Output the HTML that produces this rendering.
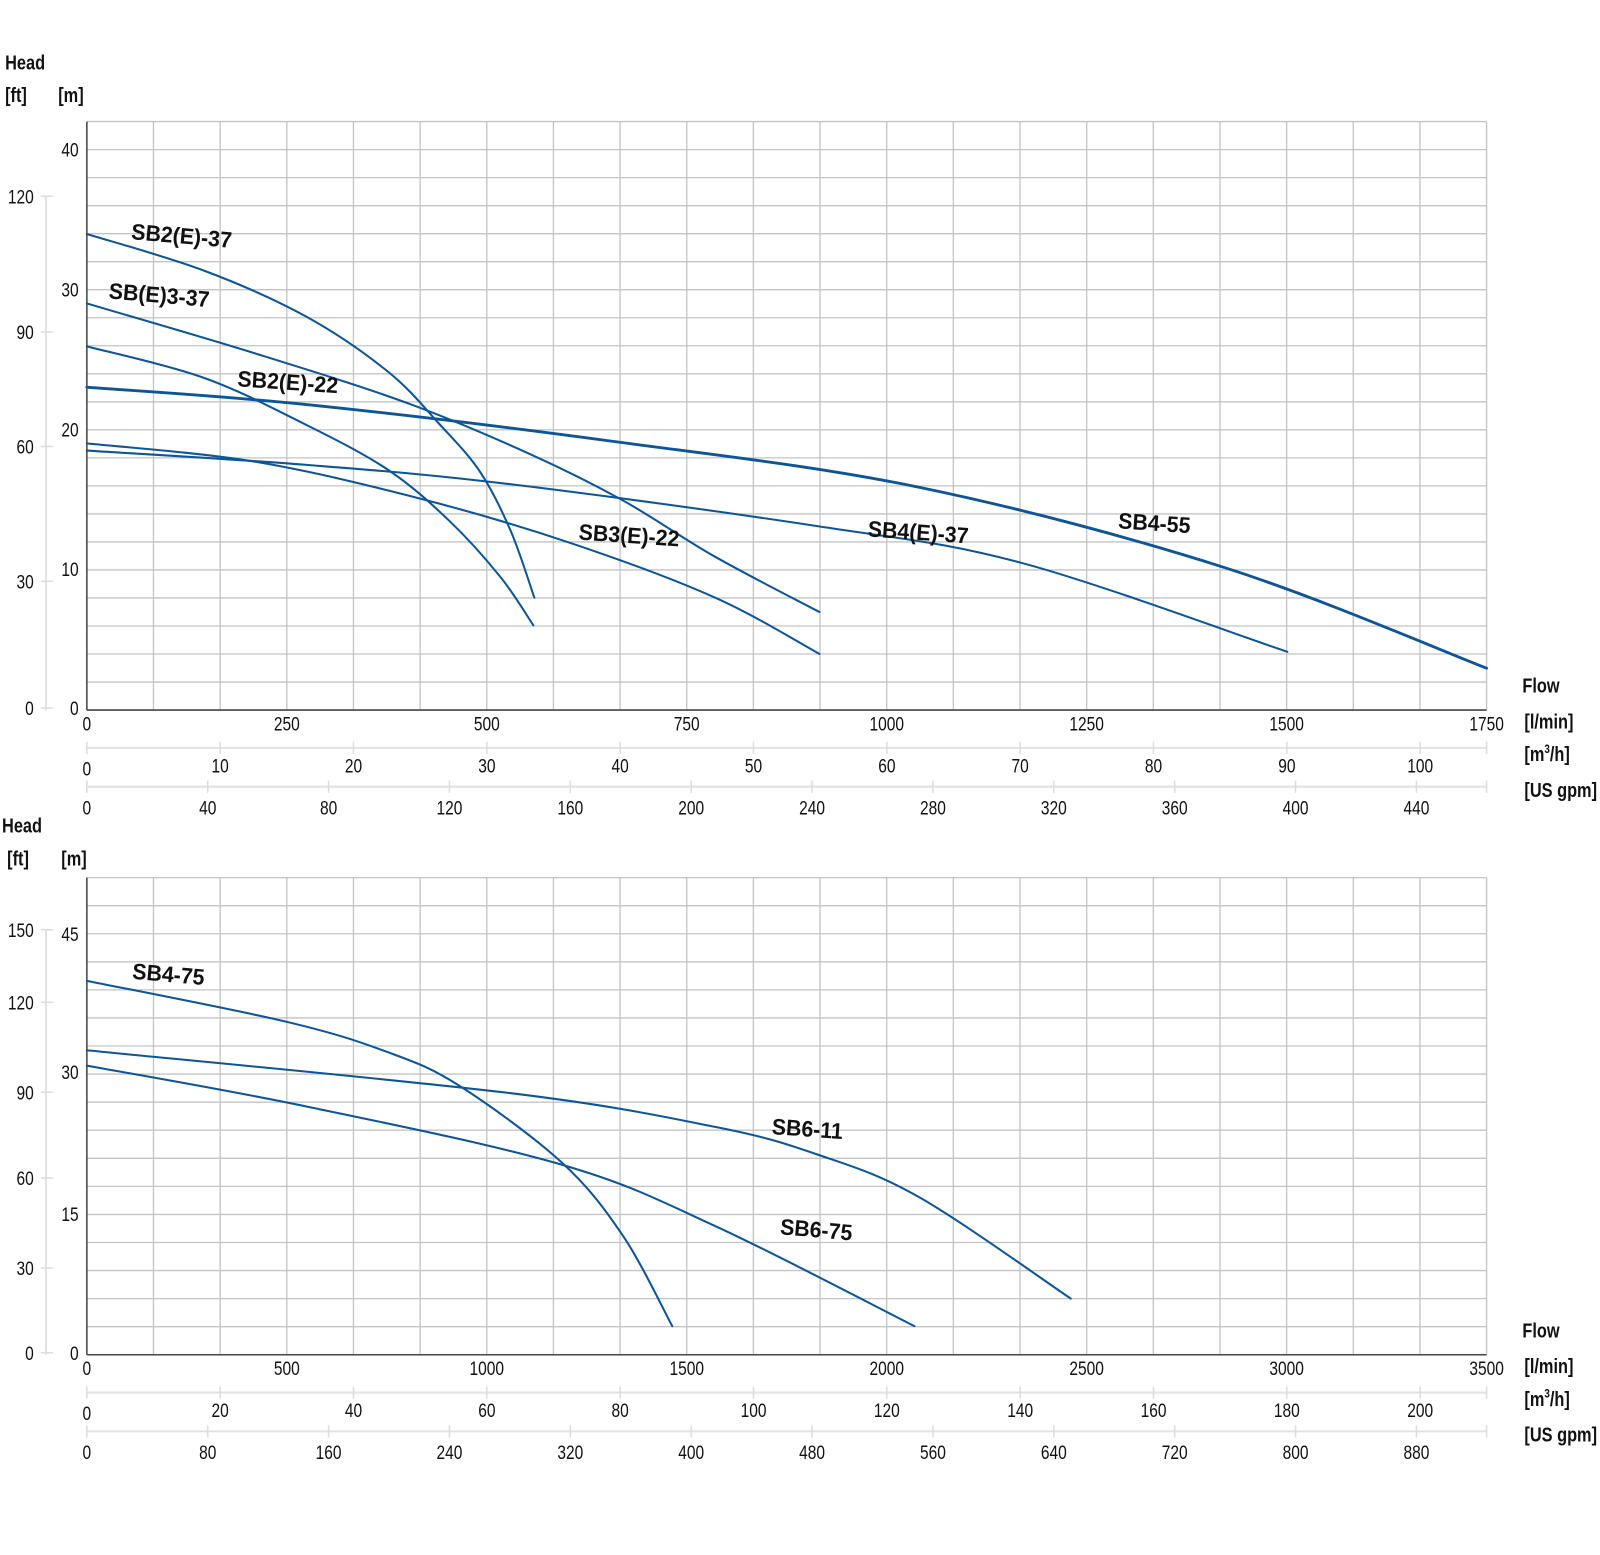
<!DOCTYPE html>
<html><head><meta charset="utf-8"><style>
html,body{margin:0;padding:0;background:#fff;}
svg{display:block;}
text{font-family:"Liberation Sans",sans-serif;fill:#111;}
</style></head><body>
<svg id="s" width="1600" height="1555" viewBox="0 0 1566 1522" preserveAspectRatio="none" xmlns="http://www.w3.org/2000/svg"></svg>
<script>
const s=document.getElementById('s');let h='';
function T(x,y,t,o={}){const sz=o.sz||19,a=o.a||'start',w=o.w||'normal',sx=o.sx||0.8,rot=o.r||0;
h+=`<text transform="translate(${x},${y}) rotate(${rot}) scale(${sx},1)" font-size="${sz}" font-weight="${w}" text-anchor="${a}">${t}</text>`;}
function L(x1,y1,x2,y2,c,w){h+=`<line x1="${x1}" y1="${y1}" x2="${x2}" y2="${y2}" stroke="${c}" stroke-width="${w}"/>`;}
function curve(pts,w){let d='M'+pts[0].join(',');
for(let i=0;i<pts.length-1;i++){const p0=pts[i-1]||pts[i],p1=pts[i],p2=pts[i+1],p3=pts[i+2]||p2;
d+=` C${p1[0]+(p2[0]-p0[0])/6},${p1[1]+(p2[1]-p0[1])/6} ${p2[0]-(p3[0]-p1[0])/6},${p2[1]-(p3[1]-p1[1])/6} ${p2[0]},${p2[1]}`;}
h+=`<path d="${d}" fill="none" stroke="#0d5596" stroke-width="${w||2}" stroke-linecap="round"/>`;}
function chart(top,bot,rows,xl,m3,gpm,mlab,ftlab,ftTop,yo){
 const x0=85,x1=1455,cw=(x1-x0)/21,rh=(bot-top)/rows;
 for(let i=1;i<21;i++)L(x0+i*cw,top,x0+i*cw,bot,'#c4c4c4',1.3);
 for(let j=0;j<rows;j++)L(x0,top+j*rh,x1,top+j*rh,'#c4c4c4',1.3);
 L(x1,top,x1,bot,'#c4c4c4',1.3);
 L(x0,top,x0,bot,'#444',1.5);L(x0,bot,x1,bot,'#444',1.5);
 xl.forEach((v,i)=>T(x0+i*cw*3,bot+20,v,{a:'middle'}));
 const a1=bot+37,a2=bot+75;
 L(x0,a1,x1,a1,'#e2e2e2',2);L(x0,a2,x1,a2,'#e2e2e2',2);
 m3.forEach((v,i)=>{const x=x0+i*130.5;if(x<=x1+1){L(x,a1-6,x,a1+6,'#ddd',1.5);T(x,a1+(i?24:27),v,{a:'middle'});}});
 L(x1,a1-6,x1,a1+6,'#ddd',1.5);
 gpm.forEach((v,i)=>{const x=x0+i*118.3;L(x,a2-6,x,a2+6,'#ddd',1.5);T(x,a2+27,v,{a:'middle'});});
 L(x1,a2-6,x1,a2+6,'#ddd',1.5);
 mlab.forEach(([v,y])=>T(77,y+7,v,{a:'end'}));
 L(45,ftTop,45,bot,'#e2e2e2',2);
 ftlab.forEach(([v,y])=>{L(40,y,52,y,'#ddd',1.5);T(33,y+7,v,{a:'end'});});
 T(1490,bot-17,'Flow',{w:'bold',sz:20,sx:0.8});
 T(1492,bot+18,'[l/min]',{w:'bold',sz:20,sx:0.8});
 T(1492,bot+50,'[m<tspan font-size="12" dy="-8">3</tspan><tspan dy="8">/h]</tspan>',{w:'bold',sz:20,sx:0.8});
 T(1492,bot+85,'[US gpm]',{w:'bold',sz:20,sx:0.8});
}
T(5,68,'Head',{w:'bold',sz:20,sx:0.8});T(5,100,'[ft]',{w:'bold',sz:20,sx:0.8});T(57,100,'[m]',{w:'bold',sz:20,sx:0.8});
chart(119,695,21,['0','250','500','750','1000','1250','1500','1750'],
['0','10','20','30','40','50','60','70','80','90','100'],
['0','40','80','120','160','200','240','280','320','360','400','440'],
[['40',146],['30',283],['20',420],['10',557],['0',693]],
[['120',192],['90',325],['60',437],['30',569],['0',693]],192);
T(2,815,'Head',{w:'bold',sz:20,sx:0.8});T(7,847,'[ft]',{w:'bold',sz:20,sx:0.8});T(60,847,'[m]',{w:'bold',sz:20,sx:0.8});
chart(859,1326,17,['0','500','1000','1500','2000','2500','3000','3500'],
['0','20','40','60','80','100','120','140','160','180','200'],
['0','80','160','240','320','400','480','560','640','720','800','880'],
[['45',914],['30',1049],['15',1188],['0',1324]],
[['150',910],['120',981],['90',1069],['60',1153],['30',1241],['0',1324]],910);
curve([[85,229],[200,265],[300,310],[380,364],[430,415],[470,462],[500,520],[523,585]]);
curve([[85,297],[250,346],[400,395],[520,445],[610,490],[700,545],[802,599]]);
curve([[85,339],[200,370],[300,416],[380,460],[440,510],[490,565],[522,612]]);
curve([[85,379],[300,396],[600,432],[900,477],[1200,556],[1455,654]],2.8);
curve([[85,434],[250,452],[415,489],[560,532],[700,585],[802,640]]);
curve([[85,441],[300,455],[500,474],[800,515],[1000,551],[1260,638]]);
curve([[85,960],[280,1000],[380,1030],[450,1063],[550,1138],[610,1210],[658,1298]]);
curve([[85,1028],[500,1070],[700,1103],[800,1130],[900,1172],[1048,1271]]);
curve([[85,1043],[300,1083],[550,1140],[700,1200],[895,1298]]);
const B={w:'bold',sz:22,sx:0.95};
T(128,234,'SB2(E)-37',{...B,r:5});T(106,292,'SB(E)3-37',{...B,r:5});T(232,378,'SB2(E)-22',{...B,r:4});
T(566,528,'SB3(E)-22',{...B,r:4});T(849,525,'SB4(E)-37',{...B,r:4});T(1094,517,'SB4-55',{...B,r:4});
T(129,958,'SB4-75',{...B,r:5});T(755,1110,'SB6-11',{...B,r:4});T(763,1208,'SB6-75',{...B,r:5});
s.innerHTML=h;
</script>
</body></html>
